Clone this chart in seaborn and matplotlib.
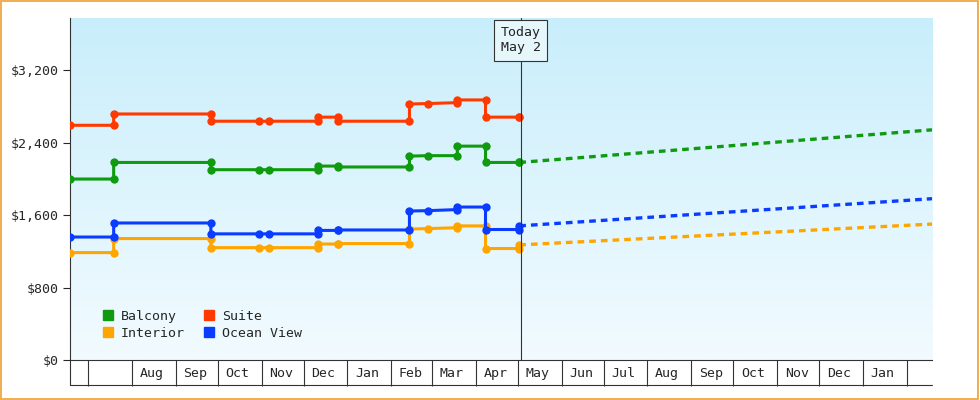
import numpy as np
import pandas as pd
import matplotlib
matplotlib.use("Agg")
import matplotlib.pyplot as plt
import matplotlib.dates as mdates
from matplotlib.patches import Rectangle
from matplotlib.lines import Line2D
import seaborn as sns

sns.set_style("white")
plt.rcParams["font.family"] = "DejaVu Sans Mono"

# price history (step points, duplicated dates mark jumps)
dates = ["2023-06-18", "2023-07-19", "2023-07-19", "2023-09-26", "2023-09-26", "2023-10-30",
         "2023-11-06", "2023-12-11", "2023-12-11", "2023-12-25", "2023-12-25", "2024-02-14",
         "2024-02-14", "2024-02-27", "2024-03-19", "2024-03-19", "2024-04-08", "2024-04-08",
         "2024-05-02", "2024-05-02"]
suite = [2590, 2590, 2715, 2715, 2635, 2635, 2635, 2635, 2680, 2680, 2635, 2635,
         2825, 2830, 2840, 2870, 2870, 2680, 2680, 2680]
balcony = [1997, 1997, 2180, 2180, 2100, 2100, 2100, 2100, 2140, 2140, 2130, 2130,
           2250, 2255, 2255, 2360, 2360, 2180, 2180, 2180]
interior = [1185, 1185, 1340, 1340, 1240, 1240, 1240, 1240, 1280, 1280, 1285, 1285,
            1445, 1450, 1460, 1480, 1480, 1230, 1230, 1270]
ocean = [1357, 1357, 1512, 1512, 1392, 1392, 1392, 1392, 1430, 1430, 1435, 1435,
         1644, 1648, 1660, 1688, 1688, 1440, 1440, 1480]

# forecast (dotted)
fc_dates = ["2024-05-02", "2025-02-19"]
fc_balcony = [2180, 2540]
fc_interior = [1270, 1500]
fc_ocean = [1480, 1780]

month_labels = pd.date_range("2023-07-15", "2025-01-15", freq="MS") + pd.Timedelta(days=14)

colors = {"Balcony": "#109a10", "Suite": "#ff3a00", "Interior": "#ffa500", "Ocean View": "#0a3cff"}

fig = plt.figure(figsize=(9.8, 4), dpi=100)
fig.patch.set_facecolor("white")
fig.patches.append(Rectangle((0.001, 0.002), 0.997, 0.995, transform=fig.transFigure,
                             fill=False, edgecolor="#f0a030", linewidth=1.2))
ax = fig.add_axes([70 / 980, 40 / 400, 862 / 980, 342 / 400])

# background gradient
grad = np.linspace(1, 0, 256).reshape(-1, 1)
cmap = matplotlib.colors.LinearSegmentedColormap.from_list("bg", ["#f2fbff", "#c9eefb"])
ax.imshow(grad, extent=[0, 1, 0, 1], transform=ax.transAxes, cmap=cmap, aspect="auto", zorder=0)

d = pd.to_datetime(dates)
for name, vals in [("Balcony", balcony), ("Suite", suite), ("Interior", interior), ("Ocean View", ocean)]:
    sns.lineplot(x=d, y=vals, ax=ax, color=colors[name], linewidth=2.2, marker="o", markersize=6,
                 markeredgewidth=0, estimator=None, sort=False, zorder=3)

fd = pd.to_datetime(fc_dates)
for name, vals in [("Balcony", fc_balcony), ("Interior", fc_interior), ("Ocean View", fc_ocean)]:
    sns.lineplot(x=fd, y=vals, ax=ax, color=colors[name], linewidth=2.4, linestyle=(0, (2, 1.5)),
                 estimator=None, sort=False, zorder=3)

today = pd.Timestamp("2024-05-03")
ax.axvline(today, color="#333333", linewidth=0.8, zorder=4)
ax.annotate("Today\nMay 2", xy=(today, 1), xycoords=("data", "axes fraction"), xytext=(0, -16),
            textcoords="offset points", ha="center", va="center", fontsize=9.5, color="#222222",
            bbox=dict(boxstyle="square,pad=0.5", fc="#e6f7fc", ec="#333333", lw=0.8), zorder=5)

ax.set_xlim(pd.Timestamp("2023-06-18"), pd.Timestamp("2025-02-19"))
ax.set_ylim(0, 3774)
ax.set_yticks([0, 800, 1600, 2400, 3200])
ax.set_yticklabels(["$0", "$800", "$1,600", "$2,400", "$3,200"], fontsize=9.5)
ax.tick_params(axis="y", left=True, length=5, direction="out", pad=3)

ax.xaxis.set_major_locator(mdates.MonthLocator())
ax.xaxis.set_major_formatter(matplotlib.ticker.NullFormatter())
ax.xaxis.set_minor_locator(matplotlib.ticker.FixedLocator(mdates.date2num(month_labels)))
ax.xaxis.set_minor_formatter(mdates.DateFormatter("%b"))
ax.tick_params(axis="x", which="major", bottom=True, length=19, width=0.8, direction="out",
               color="#333333")
ax.tick_params(axis="x", which="minor", bottom=True, length=0, pad=5, labelsize=9.5)
ax.add_line(Line2D([0, 1], [-0.073, -0.073], transform=ax.transAxes, color="#333333",
                   linewidth=0.8, clip_on=False))
ax.add_line(Line2D([0, 0], [0, -0.073], transform=ax.transAxes, color="#333333",
                   linewidth=0.8, clip_on=False))

for s in ["top", "right"]:
    ax.spines[s].set_visible(False)
ax.spines["left"].set_color("#333333")
ax.spines["bottom"].set_color("#333333")
ax.set_xlabel("")
ax.set_ylabel("")

handles = [Line2D([], [], marker="s", linestyle="", color=colors[n], markersize=7, label=n)
           for n in ["Balcony", "Interior", "Suite", "Ocean View"]]
ax.legend(handles=handles, ncol=2, loc="lower left", bbox_to_anchor=(0.015, 0.025), frameon=False,
          fontsize=9.5, handletextpad=0.0, columnspacing=0.8, labelspacing=0.3)

fig.savefig("out.png", dpi=100)
